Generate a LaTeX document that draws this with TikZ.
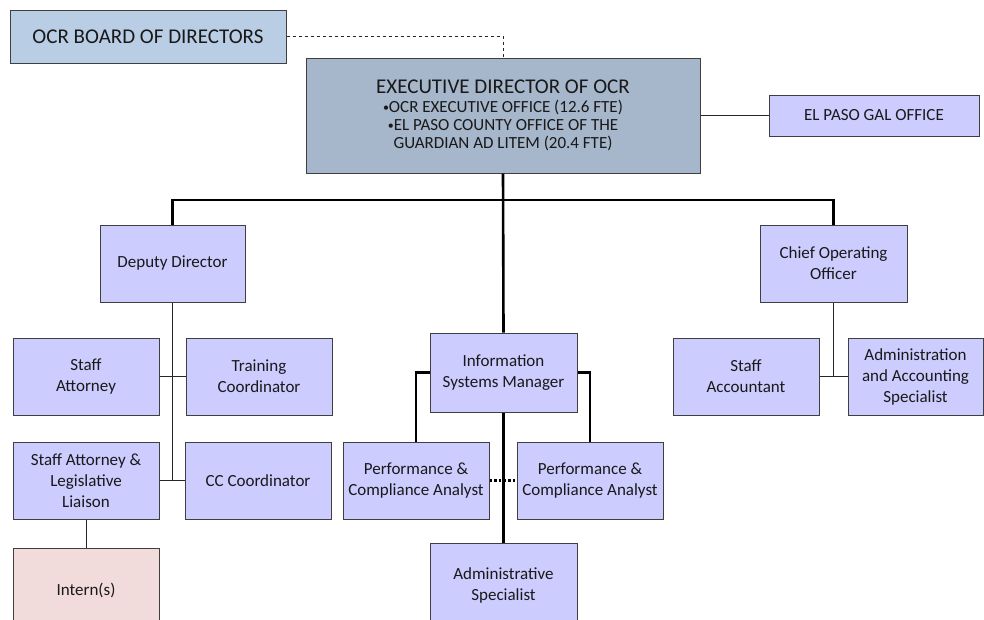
\documentclass[tikz,border=0pt]{standalone}
\usepackage{fontspec}
\setmainfont{Carlito}
\usepackage{xcolor}
\usepackage{tikz}
\usetikzlibrary{positioning,calc}

\definecolor{boardblue}{HTML}{B9CDE5}
\definecolor{execblue}{HTML}{A6B6CB}
\definecolor{staffblue}{HTML}{CCCCFF}
\definecolor{internpink}{HTML}{F2DCDB}
\definecolor{edgegray}{HTML}{3F3F3F}

\newcommand{\smallbul}{\raisebox{1pt}{\fontsize{12}{12}\selectfont\textbullet}}

\tikzset{
    unit/.style={draw=edgegray, line width=1pt, fill=staffblue, inner sep=0pt,
        align=center, text=black!90, font=\fontsize{17}{21}\selectfont},
    staffbox/.style={unit, minimum width=146pt, minimum height=77pt},
    link/.style={line width=1pt, draw=black!85},
    trunk/.style={line width=2.6pt, draw=black}
}

\begin{document}
\begin{tikzpicture}[x=1pt, y=-1pt]
    \clip (0,0) rectangle (984,619);
    \fill[white] (0,0) rectangle (984,619);

    % top of the chart
    \node[unit, fill=boardblue, minimum width=276pt, minimum height=53pt,
          font=\fontsize{21}{25}\selectfont] (board) at (148,36.5) {OCR BOARD OF DIRECTORS};
    \node[unit, fill=execblue, minimum width=394pt, minimum height=115pt,
          font=\fontsize{17}{18}\selectfont] (exec) at (503,115.5)
        {{\fontsize{21}{20}\selectfont EXECUTIVE DIRECTOR OF OCR}\\[1pt]
         \smallbul OCR EXECUTIVE OFFICE (12.6 FTE)\\
         \smallbul EL PASO COUNTY OFFICE OF THE\\
         GUARDIAN AD LITEM (20.4 FTE)};
    \node[unit, minimum width=210pt, minimum height=41pt] (gal) at (874,115.5) {EL PASO GAL OFFICE};

    % second level
    \node[staffbox, minimum width=145pt] (deputy) at (172.5,263.5) {Deputy Director};
    \node[staffbox, minimum width=147pt, minimum height=79pt] (info) at (503.5,372.5) {Information\\Systems Manager};
    \node[staffbox, minimum width=147pt] (coo) at (833.5,263.5) {Chief Operating\\Officer};

    % deputy director branch
    \node[staffbox] (sa) at (86,376.5) {Staff\\Attorney};
    \node[staffbox] (tc) at (259,376.5) {Training\\Coordinator};
    \node[staffbox] (sall) at (86,480.5) {Staff Attorney \&\\Legislative\\Liaison};
    \node[staffbox] (cc) at (258,480.5) {CC Coordinator};
    \node[staffbox, fill=internpink, minimum height=84pt] (intern) at (86,590) {Intern(s)};

    % information systems branch
    \node[staffbox] (pcl) at (416,480.5) {Performance \&\\Compliance Analyst};
    \node[staffbox] (pcr) at (590,480.5) {Performance \&\\Compliance Analyst};
    \node[staffbox, minimum width=147pt, minimum height=84pt] (admin) at (503.5,585) {Administrative\\Specialist};

    % chief operating officer branch
    \node[staffbox] (acct) at (746,376.5) {Staff\\Accountant};
    \node[staffbox, minimum width=135pt] (aas) at (915.5,376.5) {Administration\\and Accounting\\Specialist};

    % connectors
    \draw[link, dashed] (board.east) -| (exec.north);
    \draw[link] (exec.east) -- (gal.west);

    \coordinate (bus) at (503,200);
    \draw[trunk] (deputy.north) |- (bus) -| (coo.north);
    \draw[trunk] (exec.south) -- (info.north);

    \draw[link] (deputy.south) -- (deputy.south |- sall.east);
    \draw[link] (sa.east) -- (tc.west);
    \draw[link] (sall.east) -- (cc.west);
    \draw[link] (sall.south) -- (intern.north);

    \draw[trunk] (info.west) -| (pcl.north);
    \draw[trunk] (info.east) -| (pcr.north);
    \draw[trunk] (info.south) -- (admin.north);
    \draw[trunk, dotted] (pcl.east) -- (pcr.west);

    \draw[link] (coo.south) -- (coo.south |- acct.east);
    \draw[link] (acct.east) -- (aas.west);
\end{tikzpicture}
\end{document}
